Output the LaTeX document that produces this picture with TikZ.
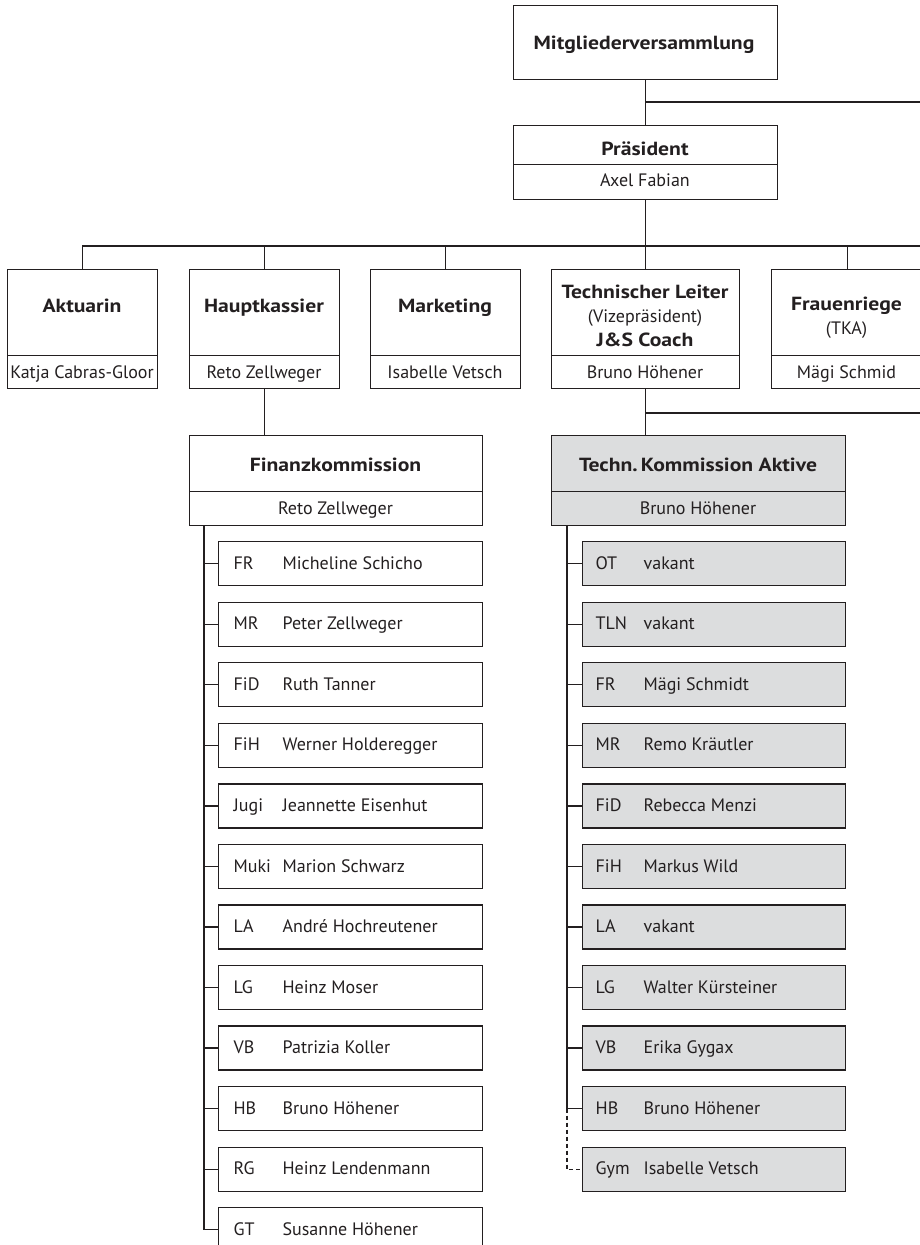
\documentclass[tikz,border=0pt]{standalone}
\usepackage{fontspec}
\setmainfont{PT Sans}[BoldFeatures={FakeStretch=1.14}]
\usetikzlibrary{calc}
\definecolor{ink}{RGB}{35,31,32}
\definecolor{tkgray}{RGB}{220,221,222}
\begin{document}
\begin{tikzpicture}[x=1pt,y=-1pt,color=ink,line width=1.3pt,
  box/.style={draw=ink, rectangle, inner sep=0pt, anchor=north west},
  gbox/.style={box, fill=tkgray},
  lbl/.style={inner sep=0pt, text height=12.6pt, text depth=0pt, font=\fontsize{18}{24}\selectfont},
  ttl/.style={inner sep=0pt, text height=13.3pt, text depth=0pt, font=\bfseries\fontsize{19}{24}\selectfont},
  multi/.style={inner sep=0pt, align=center, font=\fontsize{18}{24}\selectfont},
  conn/.style={draw=ink, line width=1.3pt},
  dashconn/.style={conn, dash pattern=on 4pt off 3pt}]
\useasboundingbox (0,0) rectangle (920,1245);

% top
\node[box, minimum width=264pt, minimum height=74pt] (mv) at (513,5) {};
\node[ttl] (mv-l) at (644,43) {Mitgliederversammlung};

\node[box, minimum width=264pt, minimum height=39pt] (pres-t) at (513,125) {};
\node[box, minimum width=264pt, minimum height=35pt] (pres-n) at (513,164) {};
\node[ttl] (pres-tl) at (645,149) {Präsident};
\node[lbl] (pres-nl) at (645,180.5) {Axel Fabian};

% second level
\node[box, minimum width=150pt, minimum height=86pt] (akt-t) at (7,269) {};
\node[box, minimum width=150pt, minimum height=33pt] (akt-n) at (7,355) {};
\node[ttl] (akt-tl) at (82,305.5) {Aktuarin};
\node[lbl] (akt-nl) at (82,372) {Katja Cabras-Gloor};

\node[box, minimum width=150pt, minimum height=86pt] (hk-t) at (189,269) {};
\node[box, minimum width=150pt, minimum height=33pt] (hk-n) at (189,355) {};
\node[ttl] (hk-tl) at (264,305.5) {Hauptkassier};
\node[lbl] (hk-nl) at (264,372) {Reto Zellweger};

\node[box, minimum width=150pt, minimum height=86pt] (mk-t) at (370,269) {};
\node[box, minimum width=150pt, minimum height=33pt] (mk-n) at (370,355) {};
\node[ttl] (mk-tl) at (445,305.5) {Marketing};
\node[lbl] (mk-nl) at (445,372) {Isabelle Vetsch};

\node[box, minimum width=188pt, minimum height=86pt] (tl-t) at (551,269) {};
\node[box, minimum width=188pt, minimum height=33pt] (tl-n) at (551,355) {};
\node[multi] (tl-tl) at (645,315.5) {{\bfseries\fontsize{19}{24}\selectfont Technischer Leiter}\\(Vizepräsident)\\{\bfseries\fontsize{19}{24}\selectfont J\&S Coach}};
\node[lbl] (tl-nl) at (645,372) {Bruno Höhener};

\node[box, minimum width=151pt, minimum height=86pt] (fr-t) at (771,269) {};
\node[box, minimum width=151pt, minimum height=33pt] (fr-n) at (771,355) {};
\node[multi] (fr-tl) at (846.5,318) {{\bfseries\fontsize{19}{24}\selectfont Frauenriege}\\(TKA)};
\node[lbl] (fr-nl) at (846.5,372) {Mägi Schmid};

% commissions
\node[box, minimum width=293pt, minimum height=56pt] (fk-t) at (189,435) {};
\node[box, minimum width=293pt, minimum height=34pt] (fk-n) at (189,491) {};
\node[ttl] (fk-tl) at (335.5,465) {Finanzkommission};
\node[lbl] (fk-nl) at (335.5,508) {Reto Zellweger};

\node[gbox, minimum width=294pt, minimum height=56pt] (tk-t) at (551,435) {};
\node[gbox, minimum width=294pt, minimum height=34pt] (tk-n) at (551,491) {};
\node[ttl] (tk-tl) at (698,465) {Techn.\,Kommission Aktive};
\node[lbl] (tk-nl) at (698,508) {Bruno Höhener};

% finance items
\foreach \ab/\nm [count=\i] in {FR/Micheline Schicho, MR/Peter Zellweger, FiD/Ruth Tanner,
  FiH/Werner Holderegger, Jugi/Jeannette Eisenhut, Muki/Marion Schwarz, LA/André Hochreutener,
  LG/Heinz Moser, VB/Patrizia Koller, HB/Bruno Höhener, RG/Heinz Lendenmann, GT/Susanne Höhener} {
  \pgfmathsetmacro\yy{541+(\i-1)*60.55}
  \node[box, minimum width=264pt, minimum height=44pt] (f\i) at (218,\yy) {};
  \node[lbl, anchor=west] (f\i-a) at (233,\yy+22) {\ab};
  \node[lbl, anchor=west] (f\i-n) at (282,\yy+22) {\nm};
}

% technical items
\foreach \ab/\nm [count=\i] in {OT/vakant, TLN/vakant, FR/Mägi Schmidt, MR/Remo Kräutler,
  FiD/Rebecca Menzi, FiH/Markus Wild, LA/vakant, LG/Walter Kürsteiner, VB/Erika Gygax,
  HB/Bruno Höhener, Gym/Isabelle Vetsch} {
  \pgfmathsetmacro\yy{541+(\i-1)*60.55}
  \node[gbox, minimum width=263pt, minimum height=44pt] (t\i) at (582,\yy) {};
  \node[lbl, anchor=west] (t\i-a) at (595,\yy+22) {\ab};
  \node[lbl, anchor=west] (t\i-n) at (643,\yy+22) {\nm};
}

% connectors
\coordinate (r1) at (920,102);
\coordinate (r2) at (920,246);
\coordinate (r3) at (920,413);
\draw[conn] (mv.south) -- (pres-t.north);
\draw[conn] (mv.south |- r1) -- (r1);
\draw[conn] (pres-n.south) -- (tl-t.north);
\draw[conn] (akt-t.north) |- (r2);
\foreach \n in {hk,mk,fr} \draw[conn] (\n-t.north) -- (\n-t.north |- r2);
\draw[conn] (tl-n.south) -- (tl-n.south |- tk-t.north);
\draw[conn] (tl-n.south |- r3) -- (r3);
\draw[conn] (hk-n.south) -- (hk-n.south |- fk-t.north);

\coordinate (ftop) at ($(fk-n.south west)+(15,0)$);
\draw[conn] (ftop) |- (f12.west);
\foreach \i in {1,...,11} \draw[conn] (f\i.west) -- (f\i.west -| ftop);

\coordinate (ttop) at ($(tk-n.south west)+(16,0)$);
\draw[conn] (ttop) |- (t10.west);
\foreach \i in {1,...,9} \draw[conn] (t\i.west) -- (t\i.west -| ttop);
\draw[dashconn] (t10.west -| ttop) |- (t11.west);
\end{tikzpicture}
\end{document}
